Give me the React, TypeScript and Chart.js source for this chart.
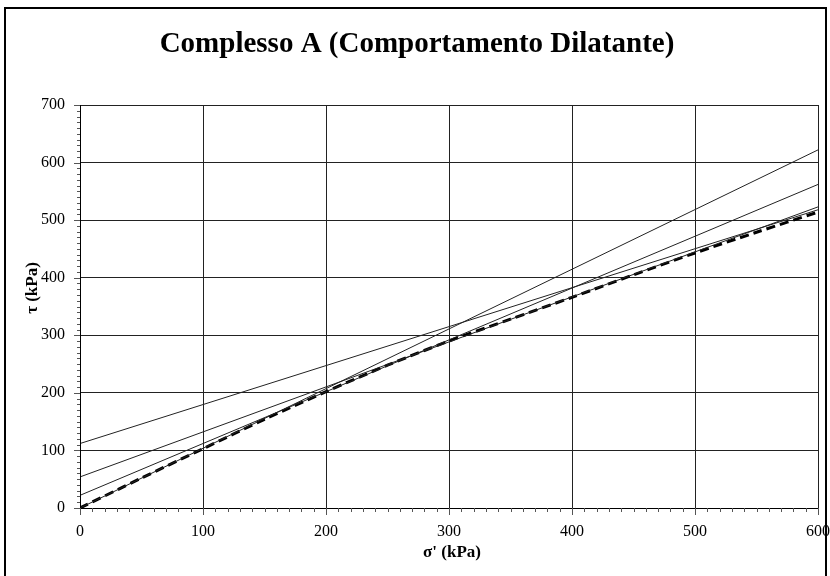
import React, { useEffect, useRef } from "react";
import { Chart, registerables } from "chart.js";

Chart.register(...registerables);

const chartTitle = "Complesso A (Comportamento Dilatante)";
const xAxisTitle = "σ' (kPa)";
const yAxisTitle = "τ (kPa)";

// Dilatant failure envelope (dashed curve)
const sigmaCurve = [0, 50, 100, 150, 200, 250, 300, 350, 400, 450, 500, 550, 600];
const tauCurve = [0, 52, 103, 154, 202, 248, 290, 328, 366, 405, 443, 479, 514];

// Straight tangent envelopes (values at sigma = 0 and sigma = 600)
const envelopeSigma = [0, 600];
const tangentOrigin = [0, 622];
const tangent22 = [22, 562];
const tangent54 = [54, 523];
const tangent112 = [112, 518];

const xMin = 0;
const xMax = 600;
const yMin = 0;
const yMax = 700;
const majorStep = 100;
const minorStep = 10;

const serif = '"Liberation Serif", "Times New Roman", serif';

function pts(xs: number[], ys: number[]) {
  return xs.map((x, i) => ({ x, y: ys[i] }));
}

const decorPlugin = {
  id: "decor",
  afterDraw(chart: any) {
    const ctx = chart.ctx;
    const xs = chart.scales.x;
    const ys = chart.scales.y;
    const { left, right, top, bottom } = chart.chartArea;
    ctx.save();
    // axes lines
    ctx.strokeStyle = "#000";
    ctx.lineWidth = 1;
    ctx.beginPath();
    ctx.moveTo(left + 0.5, top);
    ctx.lineTo(left + 0.5, bottom + 0.5);
    ctx.lineTo(right, bottom + 0.5);
    ctx.stroke();
    // ticks
    ctx.strokeStyle = "#555";
    ctx.beginPath();
    for (let v = xMin; v <= xMax; v += minorStep) {
      const px = Math.round(xs.getPixelForValue(v)) + 0.5;
      const len = v % majorStep === 0 ? 7 : 4;
      ctx.moveTo(px, bottom);
      ctx.lineTo(px, bottom + len);
    }
    for (let v = yMin; v <= yMax; v += minorStep) {
      const py = Math.round(ys.getPixelForValue(v)) + 0.5;
      const len = v % majorStep === 0 ? 6 : 3;
      ctx.moveTo(left - len, py);
      ctx.lineTo(left, py);
    }
    ctx.stroke();
    // titles
    ctx.fillStyle = "#000";
    ctx.textAlign = "center";
    ctx.textBaseline = "middle";
    ctx.font = `bold 29px ${serif}`;
    ctx.fillText(chartTitle, 417, 45);
    ctx.font = `bold 17px ${serif}`;
    ctx.fillText(xAxisTitle, (left + right) / 2 + 3, 553);
    ctx.save();
    ctx.translate(33, 288);
    ctx.rotate(-Math.PI / 2);
    ctx.fillText(yAxisTitle, 0, 0);
    ctx.restore();
    // outer frame
    ctx.strokeStyle = "#000";
    ctx.lineWidth = 2;
    ctx.strokeRect(5, 8, 821, 600);
    ctx.restore();
  },
};

export default function App() {
  const ref = useRef<HTMLCanvasElement | null>(null);
  useEffect(() => {
    if (!ref.current) return;
    const thin = { borderColor: "#222", borderWidth: 1, pointRadius: 0, showLine: true, fill: false };
    const chart = new Chart(ref.current, {
      type: "scatter",
      data: {
        datasets: [
          { ...thin, label: "c=0", data: pts(envelopeSigma, tangentOrigin) },
          { ...thin, label: "c=22", data: pts(envelopeSigma, tangent22) },
          { ...thin, label: "c=54", data: pts(envelopeSigma, tangent54) },
          { ...thin, label: "c=112", data: pts(envelopeSigma, tangent112) },
          {
            label: "dilatant",
            data: pts(sigmaCurve, tauCurve),
            borderColor: "#000",
            borderWidth: 3,
            borderDash: [9, 5],
            pointRadius: 0,
            showLine: true,
            tension: 0.3,
          },
        ],
      },
      options: {
        responsive: false,
        animation: false,
        layout: { autoPadding: false, padding: { top: 105, left: 8, right: 12, bottom: 0 } },
        plugins: { legend: { display: false }, tooltip: { enabled: false }, title: { display: false } },
        scales: {
          x: {
            type: "linear",
            min: xMin,
            max: xMax,
            afterFit: (s: any) => { s.height = 68; s.paddingLeft = 0; s.paddingRight = 0; },
            ticks: { stepSize: majorStep, color: "#000", font: { family: serif, size: 16 }, padding: 14, maxRotation: 0 },
            grid: { color: "#222", drawTicks: false, lineWidth: 1 },
            border: { display: false },
          },
          y: {
            type: "linear",
            min: yMin,
            max: yMax,
            afterFit: (s: any) => { s.width = 72; s.paddingTop = 0; s.paddingBottom = 0; },
            ticks: { stepSize: majorStep, color: "#000", font: { family: serif, size: 16 }, padding: 15 },
            grid: { color: "#222", drawTicks: false, lineWidth: 1 },
            border: { display: false },
          },
        },
      },
      plugins: [decorPlugin],
    });
    return () => chart.destroy();
  }, []);
  return (
    <div style={{ position: "fixed", left: 0, top: 0, width: 830, height: 576, background: "#fff" }}>
      <canvas ref={ref} width={830} height={576} />
    </div>
  );
}
